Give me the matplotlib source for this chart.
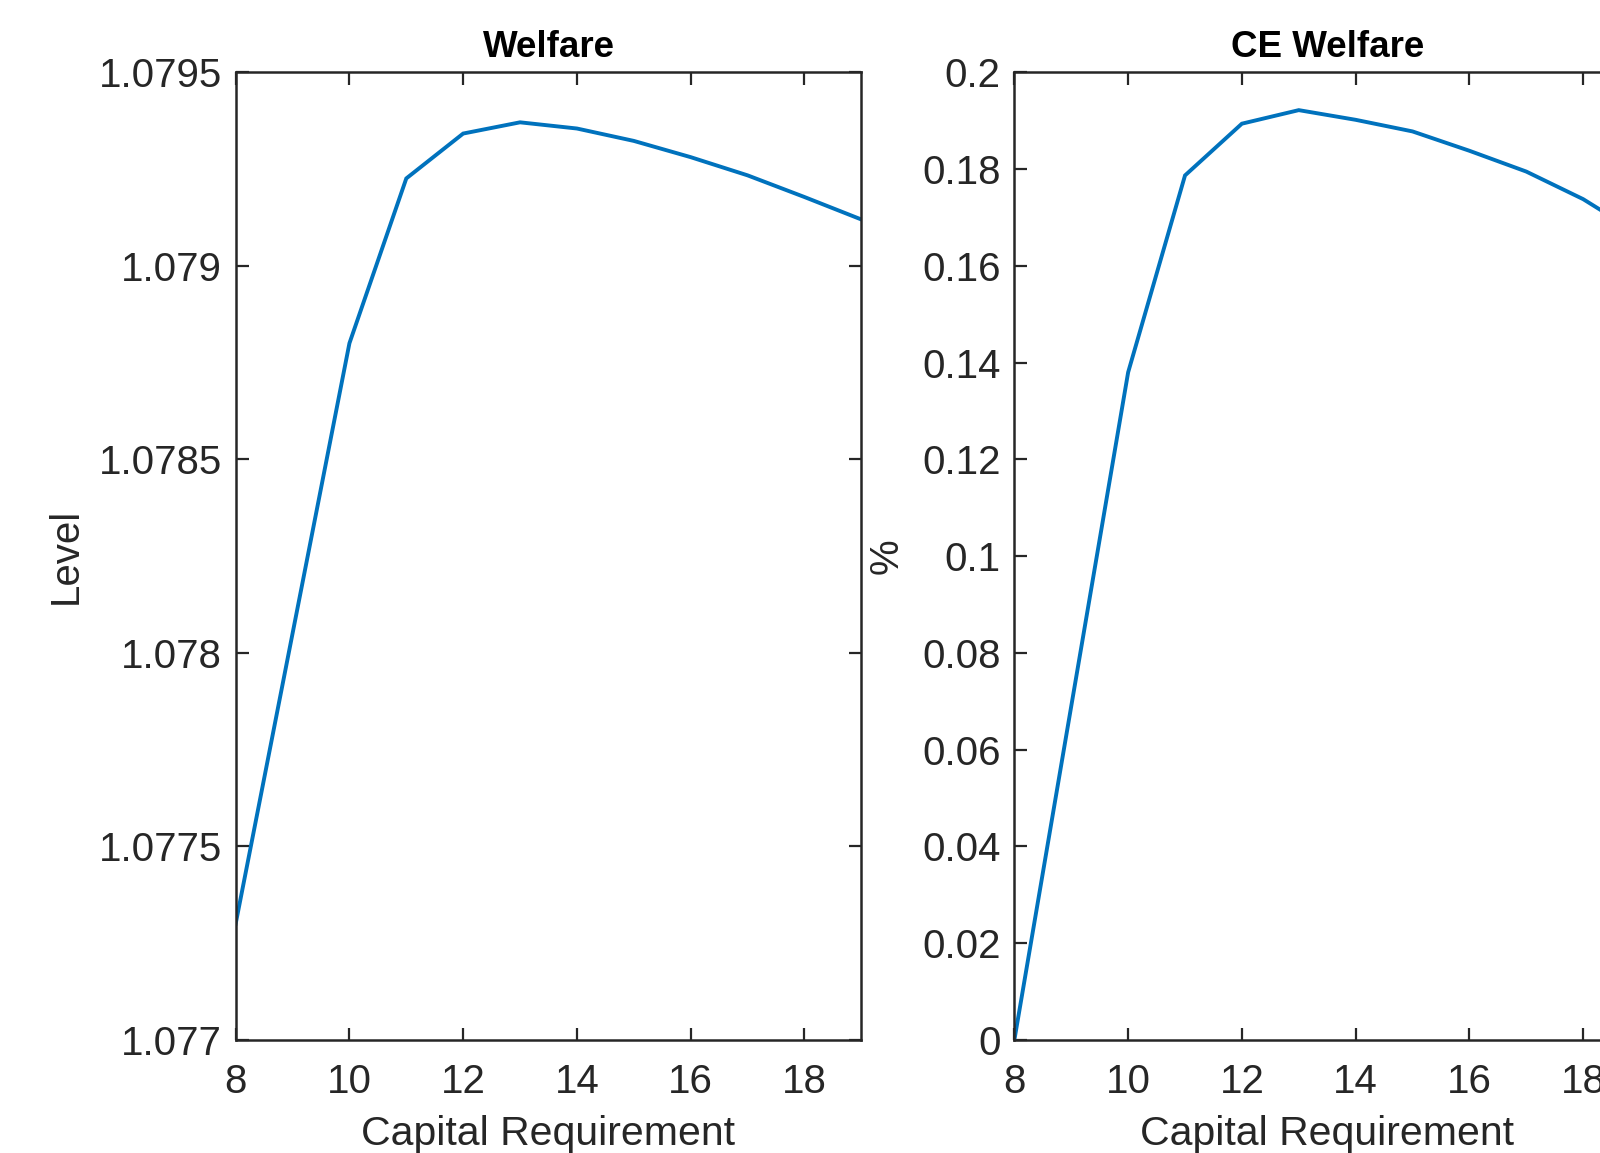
import numpy as np
import matplotlib
matplotlib.use('Agg')
from matplotlib import pyplot
from matplotlib.ticker import FuncFormatter

# capital requirement grid and the two welfare series
cap_req = [8, 9, 10, 11, 12, 13, 14, 15, 16, 17, 18, 19]
welfare = [1.07730, 1.07805, 1.07880, 1.079226, 1.079342, 1.079371,
           1.079355, 1.079323, 1.079281, 1.079234, 1.079178, 1.079120]
ce_welfare = [0.0, 0.069, 0.138, 0.1787, 0.1894, 0.1922,
              0.1902, 0.1878, 0.1838, 0.1795, 0.1738, 0.1665]

level_ticks = [1.077, 1.0775, 1.078, 1.0785, 1.079, 1.0795]
pct_ticks = [0, 0.02, 0.04, 0.06, 0.08, 0.1, 0.12, 0.14, 0.16, 0.18, 0.2]
x_ticks = [8, 10, 12, 14, 16, 18]

pyplot.rcParams['font.family'] = ['Liberation Sans', 'DejaVu Sans']
dark = '#262626'
blue = '#0072BD'

fig = pyplot.figure(figsize=(16, 11.53), dpi=100)
ax1 = fig.add_axes([0.1473, 0.0982, 0.391, 0.839])
ax2 = fig.add_axes([0.634, 0.0982, 0.391, 0.839])

def g_fmt(v, pos):
    return '%g' % round(v, 6)

for ax, y, ticks, title, ylab in [(ax1, welfare, level_ticks, 'Welfare', 'Level'),
                                  (ax2, ce_welfare, pct_ticks, 'CE Welfare', '%')]:
    ax.plot(cap_req, y, color=blue, linewidth=2.8, solid_joinstyle='miter')
    ax.set_xlim(8, 19)
    ax.set_ylim(ticks[0], ticks[-1])
    ax.set_xticks(x_ticks)
    ax.set_yticks(ticks)
    ax.yaxis.set_major_formatter(FuncFormatter(g_fmt))
    ax.tick_params(direction='in', top=True, right=True, length=9, width=1.6,
                   labelsize=29, colors=dark)
    ax.tick_params(axis='x', pad=17)
    ax.tick_params(axis='y', pad=10)
    for s in ax.spines.values():
        s.set_color(dark)
        s.set_linewidth(1.8)
    ax.set_title(title, fontsize=26.5, fontweight='bold', color='black', pad=11)
    ax.set_xlabel('Capital Requirement', fontsize=29.5, color=dark, labelpad=10)
    ax.set_ylabel(ylab, fontsize=29, color=dark, labelpad=12)

ax1.yaxis.labelpad = 10

pyplot.savefig('out.png', dpi=100)
